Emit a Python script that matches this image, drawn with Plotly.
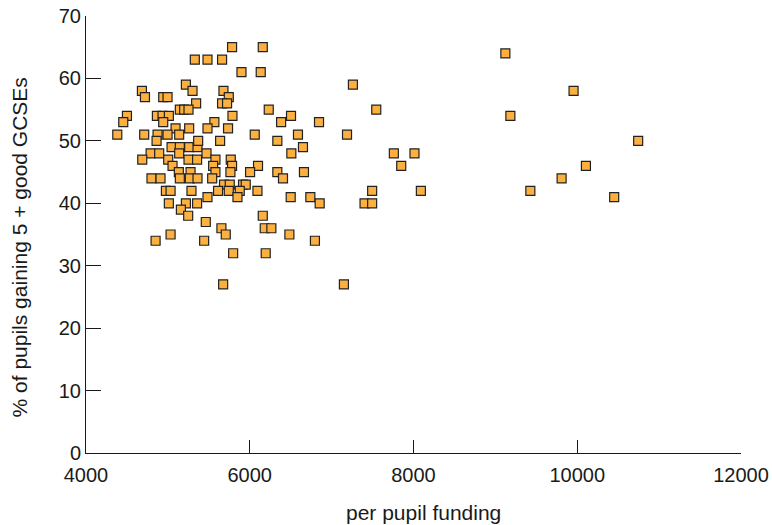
import plotly.graph_objects as go

# Per-pupil funding (£) and % of pupils gaining 5+ good GCSEs, one entry per school
funding = [
    5220, 5301, 4683, 4720, 4943, 4996, 5345, 5146, 5199, 5252,
    4500, 4866, 4935, 5012, 4455, 4943, 5094, 5260, 4382, 4711,
    4874, 4996, 5138, 4862, 5045, 5146, 5260, 5362, 5138, 4789,
    4894, 4687, 5004, 5252, 5357, 5057, 5134, 5277, 4800, 4910,
    5146, 5268, 5784, 6159, 5329, 5484, 5662, 5899, 6134, 5679,
    5744, 5662, 5723, 5789, 6232, 6504, 5568, 6383, 5484, 5735,
    6061, 6589, 5370, 5638, 6337, 6508, 5472, 5581, 5768, 5553,
    5784, 6101, 5581, 5764, 6004, 6337, 6406, 5541, 5686, 5756,
    5918, 5951, 5613, 5744, 5878, 6094, 5484, 5850, 6500, 6159,
    5463, 5654, 6183, 6264, 5707, 6484, 5443, 5362, 4976, 5033,
    5288, 5012, 5220, 5357, 5159, 5248, 5033, 4850, 5797, 6195,
    5675, 7545, 6846, 7188, 6650, 6662, 6740, 6854, 7495, 7402,
    7495, 6796, 7150, 9122, 9955, 9183, 8012, 7850, 10106, 9809,
    8090, 9427, 10744, 10451, 7260, 7760,
]
pct_gcse = [
    59, 58, 58, 57, 57, 57, 56, 55, 55, 55,
    54, 54, 54, 54, 53, 53, 52, 52, 51, 51,
    51, 51, 51, 50, 49, 49, 49, 49, 48, 48,
    48, 47, 47, 47, 47, 46, 45, 45, 44, 44,
    44, 44, 65, 65, 63, 63, 63, 61, 61, 58,
    57, 56, 56, 54, 55, 54, 53, 53, 52, 52,
    51, 51, 50, 50, 50, 48, 48, 47, 47, 46,
    46, 46, 45, 45, 45, 45, 44, 44, 43, 43,
    43, 43, 42, 42, 42, 42, 41, 41, 41, 38,
    37, 36, 36, 36, 35, 35, 34, 44, 42, 42,
    42, 40, 40, 40, 39, 38, 35, 34, 32, 32,
    27, 55, 53, 51, 49, 45, 41, 40, 42, 40,
    40, 34, 27, 64, 58, 54, 48, 46, 46, 44,
    42, 42, 50, 41, 59, 48,
]

x_ticks = [4000, 6000, 8000, 10000, 12000]
y_ticks = [0, 10, 20, 30, 40, 50, 60, 70]
x_title = "per pupil funding"
y_title = "% of pupils gaining 5 + good GCSEs"

fig = go.Figure(
    go.Scatter(
        x=funding,
        y=pct_gcse,
        mode="markers",
        marker=dict(
            symbol="square",
            size=9,
            color="#FBB040",
            line=dict(color="#222222", width=1.2),
        ),
        hoverinfo="x+y",
    )
)

axis_font = dict(family="Liberation Sans, Arial, sans-serif", size=20, color="#1a1a1a")
title_font = dict(family="Liberation Sans, Arial, sans-serif", size=21, color="#1a1a1a")

common_axis = dict(
    ticks="inside",
    tickwidth=1,
    tickcolor="#1a1a1a",
    showline=True,
    linecolor="#1a1a1a",
    linewidth=1,
    showgrid=False,
    zeroline=False,
    automargin=False,
    tickfont=axis_font,
)

fig.update_layout(
    width=772,
    height=525,
    margin=dict(l=86, r=31, t=16, b=72),
    paper_bgcolor="white",
    plot_bgcolor="white",
    showlegend=False,
    xaxis=dict(
        range=[4000, 12000],
        tickvals=x_ticks,
        ticktext=[str(v) for v in x_ticks],
        ticklen=13,
        ticklabelstandoff=4,
        **common_axis,
    ),
    yaxis=dict(
        range=[0, 70],
        tickvals=y_ticks,
        ticktext=[str(v) for v in y_ticks],
        ticklen=15,
        **common_axis,
    ),
    annotations=[
        dict(
            text=x_title, xref="paper", yref="paper",
            x=0.516, y=-0.137, xanchor="center", yanchor="middle",
            showarrow=False, font=title_font,
        ),
        dict(
            text=y_title, xref="paper", yref="paper",
            x=-0.101, y=0.47, xanchor="center", yanchor="middle",
            textangle=-90, showarrow=False, font=title_font,
        ),
    ],
)

fig.write_html("out.html")
